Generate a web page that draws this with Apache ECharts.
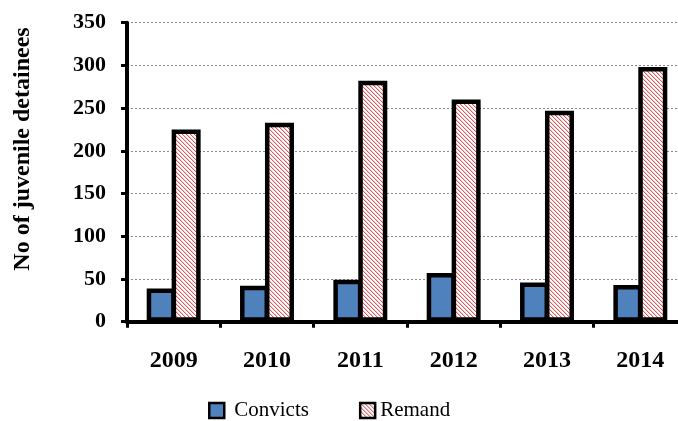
<!DOCTYPE html>
<html>
<head>
<meta charset="utf-8">
<script src="https://cdn.jsdelivr.net/npm/echarts@6/dist/echarts.min.js"></script>
<style>
html,body{margin:0;padding:0;background:#fff;}
#chart{width:678px;height:421px;}
</style>
</head>
<body>
<div id="chart"></div>
<script>
const categories = ['2009','2010','2011','2012','2013','2014'];
const convicts = [39, 42, 49, 57, 46, 43];
const remand = [225, 233, 282, 260, 247, 298];
const yTicks = [0, 50, 100, 150, 200, 250, 300, 350];

// hatch pattern for Remand
const pc = document.createElement('canvas');
pc.width = 4; pc.height = 4;
const pctx = pc.getContext('2d');
pctx.fillStyle = '#ffffff';
pctx.fillRect(0,0,4,4);
for (let i = 0; i < 4; i++) {
  pctx.fillStyle = '#de5a5e';
  pctx.fillRect(i, i, 1, 1);
  pctx.fillStyle = '#f7d0d0';
  pctx.fillRect((i+1)%4, i, 1, 1);
}
const hatch = {image: pc, repeat: 'repeat'};

const chart = echarts.init(document.getElementById('chart'), null, {renderer:'canvas'});
const serif = '"Liberation Serif", "Times New Roman", serif';
chart.setOption({
  animation: false,
  backgroundColor: '#fff',
  grid: {left: 127, right: -9, top: 22.7, bottom: 99.3, containLabel: false, outerBoundsMode: 'none'},
  legend: {
    left: 203, top: 395,
    itemWidth: 15, itemHeight: 15, itemGap: 50,
    icon: 'rect',
    textStyle: {fontFamily: serif, fontSize: 21, color: '#000'},
    data: [
      {name:'Convicts', itemStyle:{color:'#4F81BD', borderColor:'#000', borderWidth:2.5},
        textStyle: {fontFamily: serif, fontSize: 21, color: '#000', padding: [0,0,0,5]}},
      {name:'Remand', itemStyle:{color: hatch, borderColor:'#000', borderWidth:2.5}}
    ]
  },
  graphic: [{
    type: 'text', x: 22.5, y: 149, rotation: Math.PI/2,
    style: {text: 'No of juvenile detainees', font: 'bold 24px ' + serif, fill: '#000', align: 'center', verticalAlign: 'middle'}
  }],
  xAxis: {
    type: 'category', data: categories,
    axisLine: {lineStyle: {color:'#000', width: 4}},
    axisTick: {show: true, length: 6, inside: false, lineStyle: {color:'#000', width: 3}},
    axisLabel: {fontFamily: serif, fontWeight: 'bold', fontSize: 24, color: '#000', margin: 27},
    splitLine: {show:false}
  },
  yAxis: {
    type: 'value', min: 0, max: 350, interval: 50,
    axisLine: {show: true, lineStyle: {color:'#000', width: 4}},
    axisTick: {show: true, length: 6, inside: false, lineStyle: {color:'#000', width: 3}},
    axisLabel: {fontFamily: serif, fontWeight: 'bold', fontSize: 22, color: '#000', margin: 21,
      formatter: v => yTicks.includes(v) ? String(v) : ''},
    splitLine: {show: true, lineStyle: {color:'#8a8a8a', type:[2,2], width: 1}}
  },
  series: [
    {name:'Convicts', type:'bar', data: convicts, barWidth: 29, barGap: '-14%',
      itemStyle: {color:'#4F81BD', borderColor:'#000', borderWidth: 4.5}},
    {name:'Remand', type:'bar', data: remand, barWidth: 29, barGap: '-14%',
      itemStyle: {color: hatch, borderColor:'#000', borderWidth: 4.5}}
  ]
});
</script>
</body>
</html>
